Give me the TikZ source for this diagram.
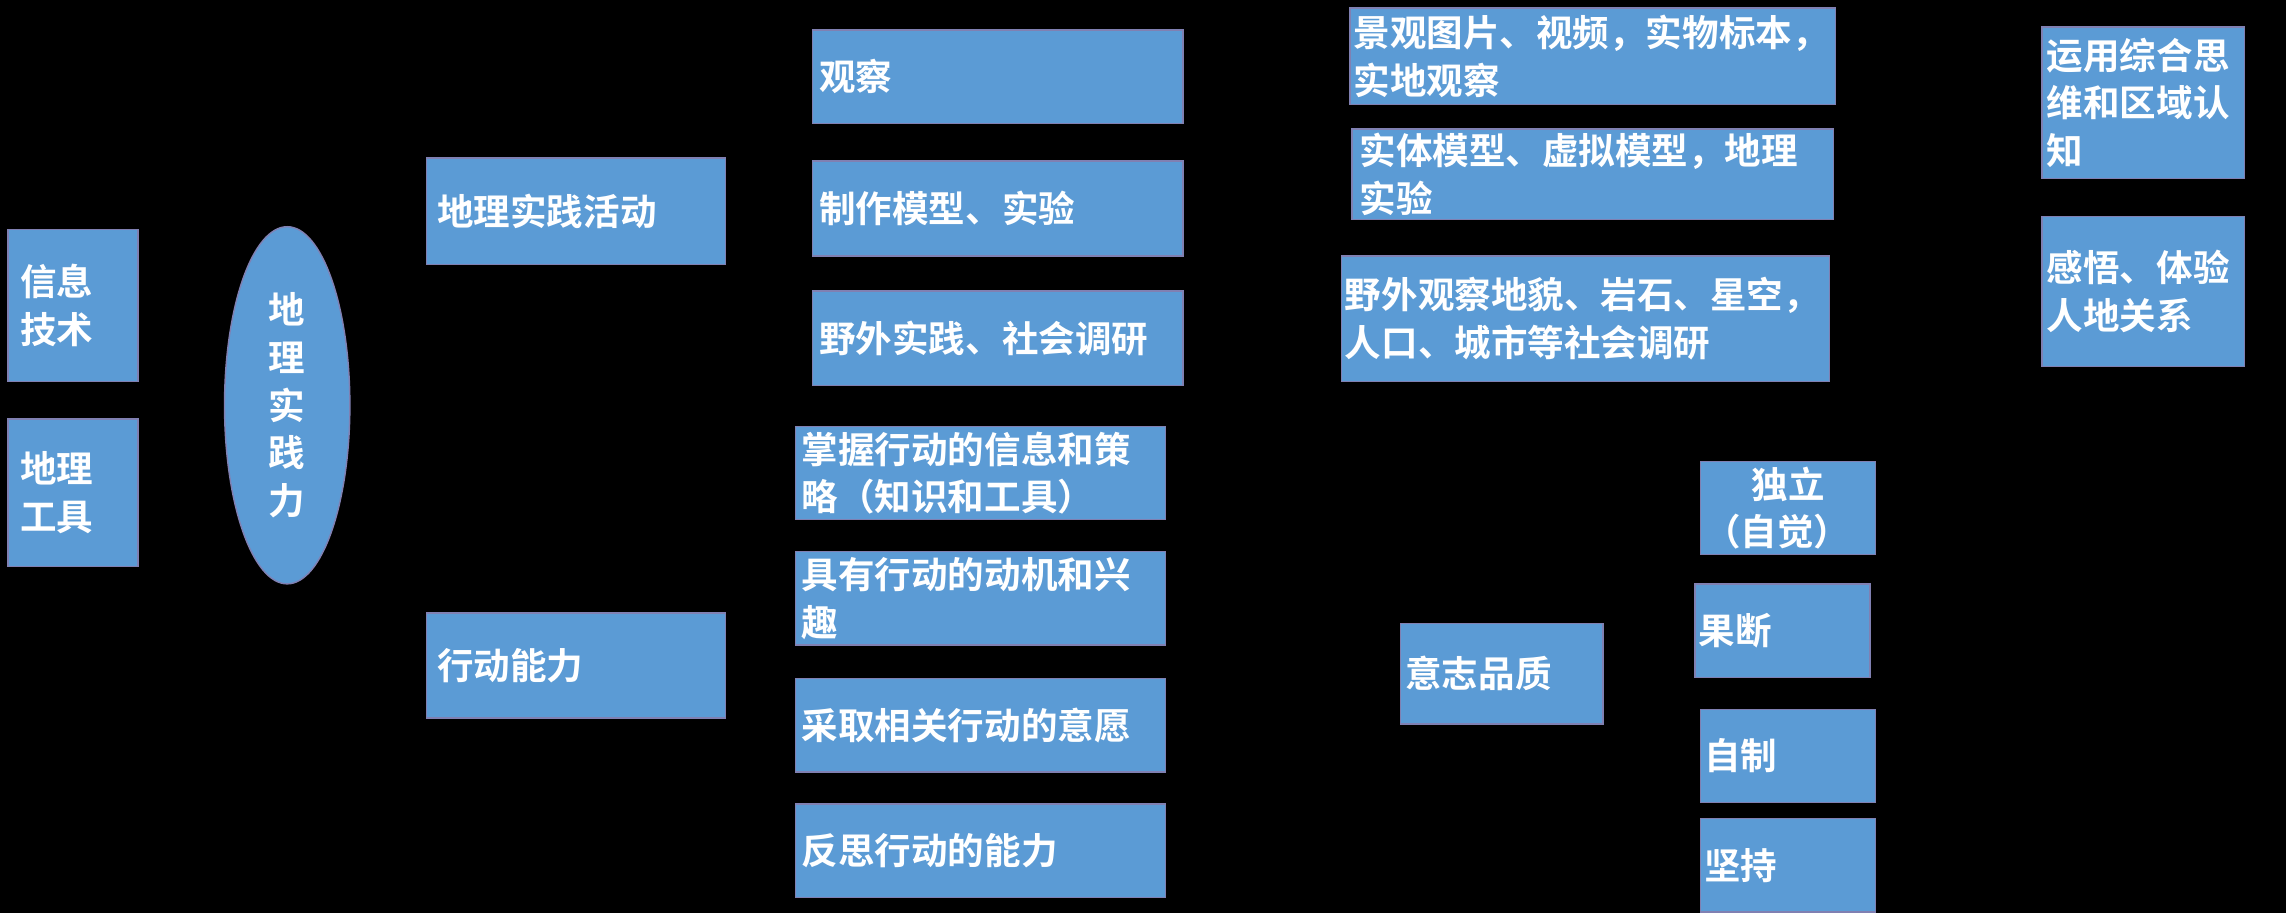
\documentclass[tikz,border=0pt]{standalone}
\usepackage{fontspec}
\newfontfamily\cjk{Noto Sans CJK SC}[BoldFont={* Bold}]
\usetikzlibrary{shapes.geometric}
\begin{document}
\begin{tikzpicture}[x=0.01458cm,y=-0.01458cm,
  box/.style={draw=black!60!blue!50, line width=0.4pt, fill={rgb,255:red,91;green,155;blue,213}, text=white, font=\cjk\bfseries\fontsize{10.4}{13.6}\selectfont, inner sep=1pt},
  lbox/.style={box, align=left}]
\fill[black] (0,0) rectangle (1568,626);
\useasboundingbox (0,0) rectangle (1568,626);
\newcommand\bx[7]{\node[#1, minimum width=#4*0.01458cm-0.4pt, minimum height=#5*0.01458cm-0.4pt, text width=#6*0.01458cm] (#2) at (#3) {#7};}
\bx{lbox}{xx}{50,209.5}{90}{105}{72}{信息\\技术}
\bx{lbox}{gj}{50,338}{90}{102}{72}{地理\\工具}
\node[box, ellipse, minimum width=86*0.01458cm, minimum height=245*0.01458cm, align=center] (sjl) at (197,278) {地\\理\\实\\践\\力};
\bx{box}{hd}{395,145}{206}{74}{190}{\centering 地理实践活动}
\bx{box}{nl}{395,456.5}{206}{73}{190}{\centering 行动能力}
\bx{box}{gc}{684.5,52.5}{255}{65}{245}{\centering 观察}
\bx{box}{zz}{684.5,143}{255}{66}{245}{\centering 制作模型、实验}
\bx{box}{yw}{684.5,232}{255}{66}{245}{\centering 野外实践、社会调研}
\bx{lbox}{zw}{672.5,324.5}{255}{65}{245}{掌握行动的信息和策\\略（知识和工具）}
\bx{lbox}{jy}{672.5,410.5}{255}{65}{245}{具有行动的动机和兴\\趣}
\bx{lbox}{cq}{672.5,497.5}{255}{65}{245}{采取相关行动的意愿}
\bx{lbox}{fs}{672.5,583.5}{255}{65}{245}{反思行动的能力}
\bx{lbox}{jg}{1092.5,38.5}{331}{67}{328}{景观图片、视频，实物标本，\\实地观察}
\bx{lbox}{st}{1092.5,119.5}{331}{63}{320}{实体模型、虚拟模型，地理\\实验}
\bx{lbox}{ywg}{1087.5,218.5}{335}{87}{330}{野外观察地貌、岩石、星空，\\人口、城市等社会调研}
\bx{lbox}{yy}{1470,70.5}{140}{105}{132}{运用综合思\\维和区域认\\知}
\bx{lbox}{gw}{1470,200}{140}{104}{132}{感悟、体验\\人地关系}
\bx{box}{yz}{1030,462}{140}{70}{132}{\centering 意志品质}
\bx{box}{dl}{1226.5,348.5}{121}{65}{115}{\centering 独立\\（自觉）}
\bx{box}{gd}{1222.5,432.5}{121}{65}{115}{\centering 果断}
\bx{box}{zzh}{1226.5,518.5}{121}{65}{115}{\centering 自制}
\bx{box}{jc}{1226.5,593.5}{121}{65}{115}{\centering 坚持}
\end{tikzpicture}
\end{document}
